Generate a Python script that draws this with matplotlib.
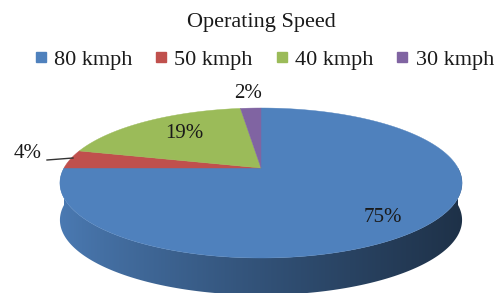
import numpy as np
import matplotlib.pyplot as plt
from matplotlib.patches import Polygon
from matplotlib.lines import Line2D

# data
speeds = ['80 kmph', '50 kmph', '40 kmph', '30 kmph']
shares = [75, 4, 19, 2]
colors = ['#4F81BD', '#C0504D', '#9BBB59', '#8064A2']
pct_labels = ['75%', '4%', '19%', '2%']
title = 'Operating Speed'

# pie geometry (pixel space), perspective tilt
cx, cy = 261, 168
a, b, c = 197, 72, 0.2
depth = 37
label_xy = [(383, 218), (28, 153), (184, 133), (248, 94)]

serif = ['Liberation Serif', 'DejaVu Serif']


def proj(phi, z=0.0):
    r = np.radians(phi)
    s = 1 + c * np.sin(r)
    return cx + a * np.cos(r) / s, cy - b * np.sin(r) / s + z


def to_rgb(hexcol):
    return np.array([int(hexcol[i:i + 2], 16) for i in (1, 3, 5)]) / 255.0


fig = plt.figure(figsize=(5, 2.93), dpi=100)
ax = fig.add_axes([0, 0, 1, 1])
ax.set_xlim(0, 500)
ax.set_ylim(293, 0)
ax.axis('off')

# wedge angles: start at 12 o'clock, go clockwise
total = float(sum(shares))
bounds = []
start = 90.0
for v in shares:
    end = start - 360.0 * v / total
    bounds.append((end, start))
    start = end

# side of the cylinder (front half), shaded left -> right
xl, xr = cx - a * 1.03, cx + a * 1.03
for (t1, t2), col in zip(bounds, colors):
    lo = max(t1, -180.0)
    hi = min(t2, 0.0)
    if hi <= lo:
        continue
    ph = np.linspace(lo, hi, 300)
    xs, ys = proj(ph)
    outline = list(zip(xs, ys)) + list(zip(xs[::-1], ys[::-1] + depth))
    side = Polygon(outline, closed=True, facecolor='none', edgecolor='none')
    ax.add_patch(side)
    t = np.linspace(0, 1, 400)
    f = 0.95 - 0.57 * t ** 0.85
    grad = to_rgb(col)[None, None, :] * f[None, :, None]
    im = ax.imshow(np.clip(grad, 0, 1), extent=(xl, xr, 293, 0), aspect='auto',
                   interpolation='bilinear', zorder=1)
    im.set_clip_path(side)

# top face
for (t1, t2), col in zip(bounds, colors):
    ph = np.linspace(t1, t2, 200)
    xs, ys = proj(ph)
    pts = [(cx, cy)] + list(zip(xs, ys))
    ax.add_patch(Polygon(pts, closed=True, facecolor=col, edgecolor=col,
                         linewidth=0.3, zorder=2))
ax.set_xlim(0, 500)
ax.set_ylim(293, 0)

# percentage labels
for (lx, ly), txt in zip(label_xy, pct_labels):
    ax.text(lx, ly, txt, ha='center', va='center', fontsize=15,
            family=serif, color='#1a1a1a', zorder=3)
ax.plot([47, 73], [160, 158], color='#333333', lw=1.0, zorder=3)

ax.text(261, 22, title, ha='center', va='center', fontsize=16,
        family=serif, color='#1a1a1a')

handles = [Line2D([], [], marker='s', linestyle='', markersize=6.5,
                  markerfacecolor=col, markeredgecolor=col) for col in colors]
fig.legend(handles, speeds, ncol=4, loc='center', bbox_to_anchor=(0.53, 1 - 60 / 293),
           frameon=False, handlelength=0.4, handletextpad=0.4, columnspacing=1.1,
           prop={'family': serif, 'size': 16}, labelcolor='#1a1a1a')

fig.savefig('out.png', dpi=100)
